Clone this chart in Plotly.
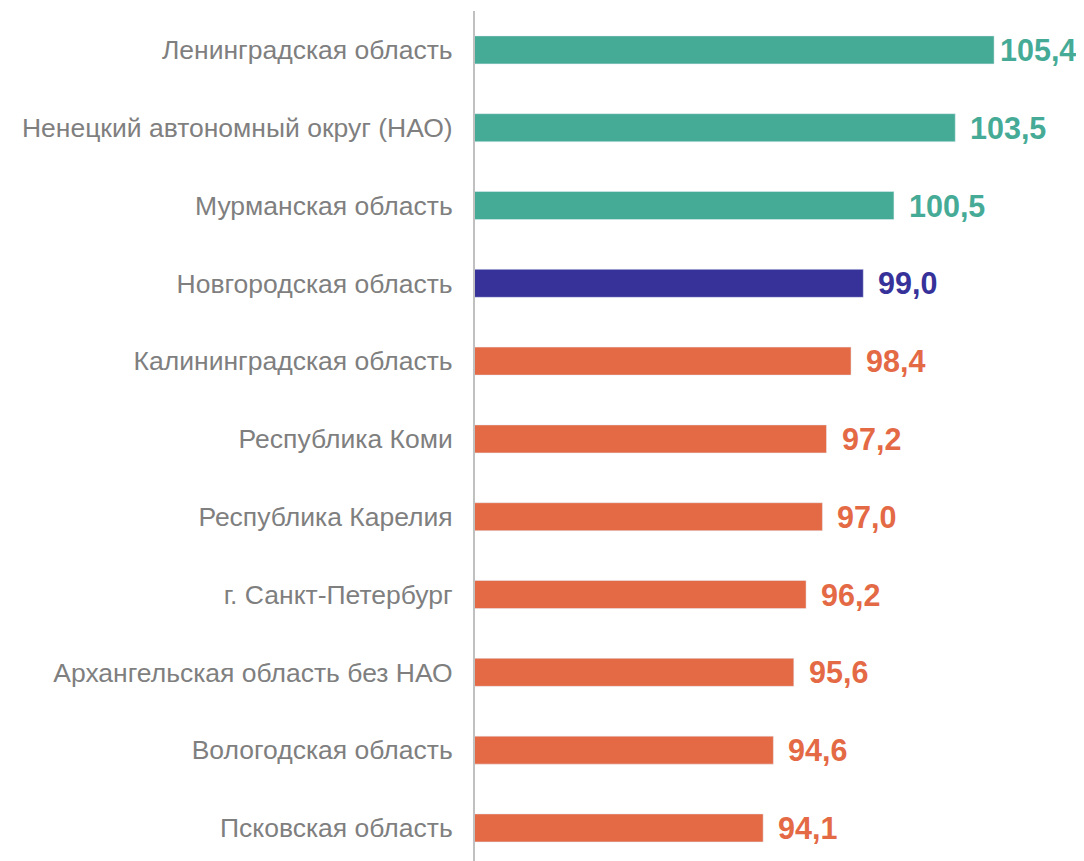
import plotly.graph_objects as go

# --- Data ---
regions = [
    'Ленинградская область',
    'Ненецкий автономный округ (НАО)',
    'Мурманская область',
    'Новгородская область',
    'Калининградская область',
    'Республика Коми',
    'Республика Карелия',
    'г. Санкт-Петербург',
    'Архангельская область без НАО',
    'Вологодская область',
    'Псковская область',
]
values = [105.4, 103.5, 100.5, 99.0, 98.4, 97.2, 97.0, 96.2, 95.6, 94.6, 94.1]

TEAL = '#46AB96'
NAVY = '#36329A'
ORANGE = '#E46945'
HIGHLIGHT = 'Новгородская область'
FONT = 'Arial, Liberation Sans, sans-serif'


def bar_color(name, v):
    if name == HIGHLIGHT:
        return NAVY
    return TEAL if v >= 100 else ORANGE


colors = [bar_color(r, v) for r, v in zip(regions, values)]

fig = go.Figure(go.Bar(
    x=values,
    y=regions,
    orientation='h',
    marker_color=colors,
    width=0.36,
))

# Value labels next to the bars (the widest one is squeezed against the edge)
for r, v, c in zip(regions, values, colors):
    fig.add_annotation(
        x=v, y=r, text=f'<b>{v:.1f}</b>'.replace('.', ','),
        xanchor='left', yanchor='middle', showarrow=False,
        xshift=4 if v > 105 else 13,
        font=dict(family=FONT, size=30.5, color=c),
    )

# page body adds an 8px offset, so the figure is shrunk by that much
fig.update_layout(
    width=1076,
    height=853,
    margin=dict(l=467, r=0, t=3, b=0),
    plot_bgcolor='white',
    paper_bgcolor='white',
    showlegend=False,
    xaxis=dict(range=[80, 109.8], visible=False),
    yaxis=dict(
        range=[10.425, -0.5],
        showline=True, linecolor='#C0C0C0', linewidth=2,
        showgrid=False, zeroline=False,
        ticks='', ticklabelstandoff=15,
        tickfont=dict(family=FONT, size=26.5, color='#7F7F7F'),
    ),
)

fig.write_html('out.html')
